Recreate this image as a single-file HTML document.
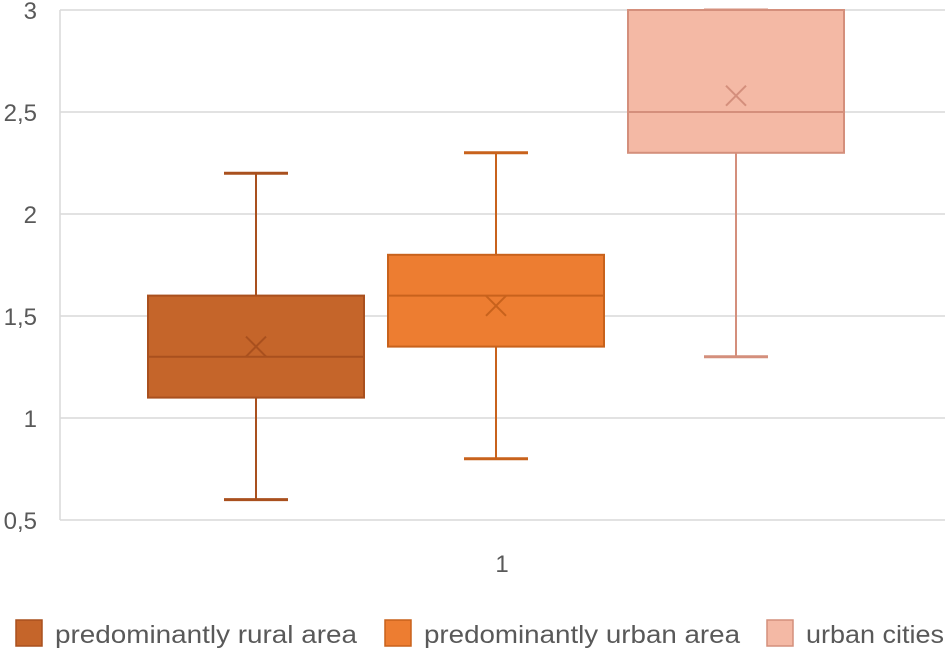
<!DOCTYPE html>
<html><head><meta charset="utf-8"><style>
html,body{margin:0;padding:0;background:#fff;}
svg{display:block;font-family:"Liberation Sans",sans-serif;}
</style></head><body>
<svg id="chart" width="945" height="648" viewBox="0 0 945 648" xmlns="http://www.w3.org/2000/svg"></svg>
<script>
const yTicks = [0.5, 1, 1.5, 2, 2.5, 3];
const yTickLabels = ["0,5", "1", "1,5", "2", "2,5", "3"];
const seriesNames = ["predominantly rural area", "predominantly urban area", "urban cities"];
const whiskerLow = [0.6, 0.8, 1.3];
const q1Values = [1.1, 1.35, 2.3];
const medianValues = [1.3, 1.6, 2.5];
const q3Values = [1.6, 1.8, 3.0];
const whiskerHigh = [2.2, 2.3, 3.0];
const meanValues = [1.35, 1.55, 2.58];
const xCategory = ["1"];

const fills = ["#c5652a", "#ed7d31", "#f4b9a5"];
const strokes = ["#a9501e", "#c8621c", "#d48f7c"];
const svg = document.getElementById('chart');
const NS = "http://www.w3.org/2000/svg";
const plotL = 60, plotR = 945, plotT = 10, plotB = 520;
const yMin = 0.5, yMax = 3;
function y(v){ return plotB - (v - yMin) / (yMax - yMin) * (plotB - plotT); }
const boxW = 216, gap = 24, firstX = 148;
function bx(i){ return firstX + i * (boxW + gap); }
function mk(tag, attrs){ const e = document.createElementNS(NS, tag); for (const k in attrs) e.setAttribute(k, attrs[k]); svg.appendChild(e); return e; }

yTicks.forEach((t, i) => {
  const g = mk('line', {x1: plotL, x2: plotR, y1: y(t), y2: y(t), stroke: '#d9d9d9', 'stroke-width': 1.5});
  
  
  const tx = mk('text', {x: 37, y: y(t) + 9, 'text-anchor': 'end', 'font-size': 24, fill: '#595959'});
  tx.textContent = yTickLabels[i];
  
  
});
const ax = mk('line', {x1: plotL, x2: plotL, y1: plotT, y2: plotB, stroke: '#d9d9d9', 'stroke-width': 1.5});


const xl = mk('text', {x: 502, y: 572, 'text-anchor': 'middle', 'font-size': 24, fill: '#595959'});
xl.textContent = xCategory[0];



seriesNames.forEach((n, i) => {
  const x0 = bx(i), cx = x0 + boxW / 2, s = strokes[i];
  const w1 = mk('line', {x1: cx, x2: cx, y1: y(whiskerLow[i]), y2: y(q1Values[i]), stroke: s, 'stroke-width': 2});
  
  
  const w2 = mk('line', {x1: cx, x2: cx, y1: y(whiskerHigh[i]), y2: y(q3Values[i]), stroke: s, 'stroke-width': 2});
  
  
  [whiskerLow[i], whiskerHigh[i]].forEach(v => {
    const c = mk('line', {x1: cx - 32, x2: cx + 32, y1: y(v), y2: y(v), stroke: s, 'stroke-width': 3});
    
    
  });
  const r = mk('rect', {x: x0, y: y(q3Values[i]), width: boxW, height: y(q1Values[i]) - y(q3Values[i]), fill: fills[i], stroke: s, 'stroke-width': 2});
  
  
  const m = mk('line', {x1: x0, x2: x0 + boxW, y1: y(medianValues[i]), y2: y(medianValues[i]), stroke: s, 'stroke-width': 2});
  
  
  const my = y(meanValues[i]);
  const p = mk('path', {d: `M${cx-10},${my-10}L${cx+10},${my+10}M${cx+10},${my-10}L${cx-10},${my+10}`, stroke: s, 'stroke-width': 2, fill: 'none'});
  
  
});

const legX = [15, 384, 766];
const legTextW = [302, 316, 138];
seriesNames.forEach((n, i) => {
  const sw = mk('rect', {x: legX[i] + 1, y: 620, width: 26, height: 26, fill: fills[i], stroke: strokes[i], 'stroke-width': 1.5});
  
  
  const t = mk('text', {x: legX[i] + 40, y: 643, 'font-size': 25, fill: '#595959', textLength: legTextW[i], lengthAdjust: 'spacingAndGlyphs'});
  t.textContent = n;
  
  
});
</script>
</body></html>
